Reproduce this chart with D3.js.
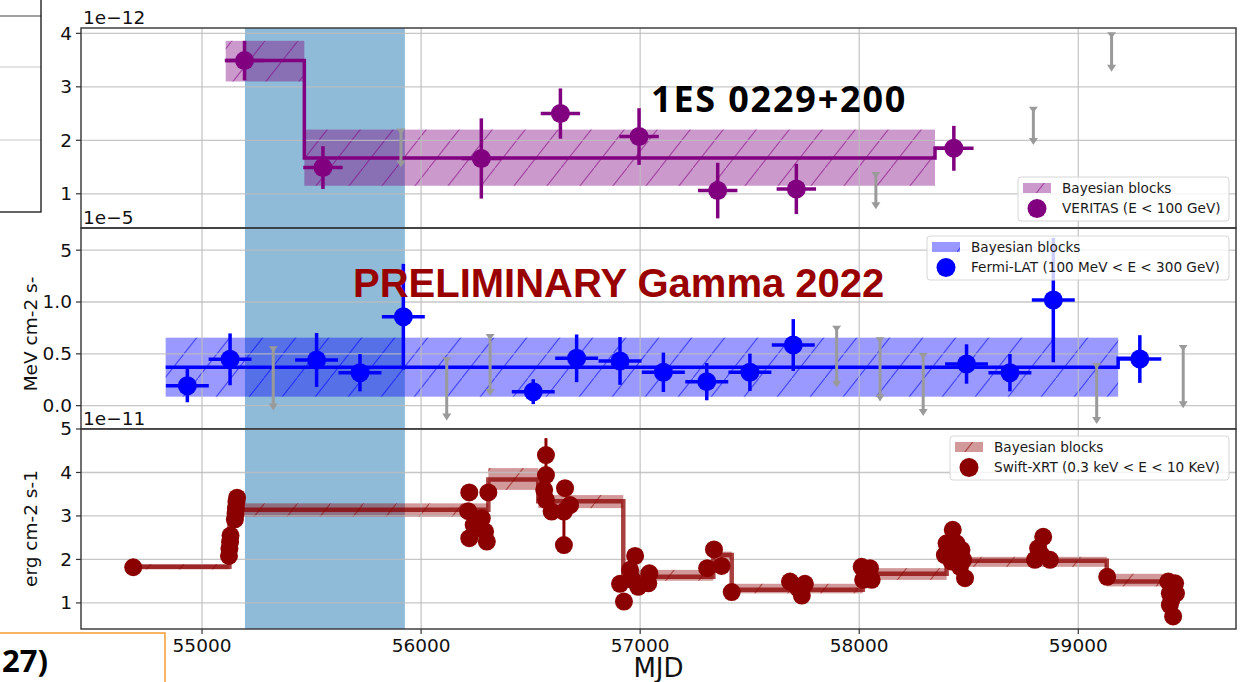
<!DOCTYPE html>
<html>
<head>
<meta charset="utf-8">
<script src="https://cdn.jsdelivr.net/npm/d3@7"></script>
<style>
  body { margin: 0; background: #fff; }
  svg { display: block; }
</style>
</head>
<body>
<svg id="chart" width="1248" height="682"></svg>
<script>
// ---------- data ----------
const xTicks = [55000, 56000, 57000, 58000, 59000];
const flareWindow = [55196, 55926];

// VERITAS (E < 100 GeV), flux in units of 1e-12
const veritasMjd  = [55194, 55552, 56275, 56636, 56995, 57354, 57713, 58432];
const veritasFlux = [3.49, 1.49, 1.66, 2.50, 2.07, 1.06, 1.09, 1.85];
const veritasErr  = [0.37, 0.40, 0.75, 0.47, 0.53, 0.52, 0.47, 0.42];
const veritasHalfBin = 90;
const veritasUlMjd = [55908, 58076, 58795, 59152];
const veritasUl    = [2.20, 1.39, 2.61, 4.00];
const veritasUlLen = [0.69, 0.66, 0.68, 0.70];
const veritasBlockEdges = [55108, 55467, 58346, 58440];
const veritasBlockFlux  = [3.49, 1.67, 1.85];
const veritasBlockLo    = [3.10, 1.15, 1.85];
const veritasBlockHi    = [3.86, 2.20, 1.85];
const veritasTicks = [1, 2, 3, 4];
const veritasTickLabels = ["1", "2", "3", "4"];

// Fermi-LAT (100 MeV < E < 300 GeV), flux in units of 1e-5
const fermiMjd  = [54933, 55128, 55523, 55721, 55919, 56512, 56710, 56908, 57106, 57304, 57501, 57699, 58490, 58688, 58886, 59281];
const fermiFlux = [0.193, 0.447, 0.441, 0.318, 0.858, 0.135, 0.457, 0.431, 0.322, 0.232, 0.322, 0.585, 0.402, 0.318, 1.019, 0.450];
const fermiErr  = [0.16, 0.25, 0.26, 0.18, 0.51, 0.12, 0.23, 0.23, 0.19, 0.18, 0.18, 0.25, 0.19, 0.18, 0.60, 0.23];
const fermiHalfBin = 98;
const fermiUlMjd = [55325, 56117, 56315, 57897, 58095, 58292, 59084, 59479];
const fermiUl    = [0.563, 0.457, 0.682, 0.762, 0.650, 0.499, 0.402, 0.576];
const fermiUlLen = [0.60, 0.59, 0.58, 0.58, 0.60, 0.59, 0.57, 0.59];
const fermiBlockEdges = [54834, 59182, 59281];
const fermiBlockFlux  = [0.370, 0.457];
const fermiBlockLo    = [0.087, 0.457];
const fermiBlockHi    = [0.656, 0.457];
const fermiTicks = [0.0, 0.5, 1.0, 1.5];
const fermiTickLabels = ["0.0", "0.5", "1.0", "5"];

// Swift-XRT (0.3 keV < E < 10 keV), flux in units of 1e-11
const swiftMjd = [54686,
  55123, 55125, 55128, 55130, 55150, 55153, 55155, 55157, 55160,
  56220, 56215, 56240, 56220, 56277, 56292, 56300, 56307,
  56570, 56570, 56562, 56570, 56596, 56657, 56680, 56652, 56652,
  56908, 56926, 56977, 56954, 56965, 56991, 57042, 57037,
  57306, 57337, 57372, 57418,
  57684, 57721, 57738, 57752,
  58011, 58049, 58018, 58057,
  58391, 58399, 58422, 58427, 58444, 58460, 58467, 58475, 58483,
  58802, 58817, 58832, 58840, 58871,
  59132,
  59411, 59418, 59425, 59433, 59442, 59446, 59418];
const swiftFlux = [1.82,
  2.08, 2.25, 2.40, 2.55, 2.92, 3.05, 3.18, 3.32, 3.42,
  3.54, 3.11, 2.79, 2.49, 2.95, 2.64, 2.41, 3.54,
  4.40, 3.94, 3.60, 3.37, 3.10, 3.64, 3.25, 3.10, 2.33,
  1.44, 1.03, 2.08, 1.76, 1.53, 1.37, 1.68, 1.45,
  1.80, 2.23, 1.85, 1.25,
  1.49, 1.34, 1.17, 1.44,
  1.83, 1.80, 1.53, 1.53,
  2.10, 2.37, 1.95, 2.68, 2.37, 1.83, 2.22, 1.99, 1.57,
  1.99, 2.26, 2.10, 2.52, 1.99,
  1.60,
  1.49, 1.22, 1.07, 0.69, 1.45, 1.22, 0.95];
const swiftErrUp = swiftFlux.map((v, i) => i === 18 ? 0.39 : i === 26 ? 0.77 : 0.1);
const swiftErrDown = swiftFlux.map((v, i) => i === 18 ? 0.39 : 0.1);
const swiftBlockEdges = [54686, 55125, 56307, 56535, 56923, 57334, 57418, 58016, 58399, 59130, 59411];
const swiftBlockFlux  = [1.83, 3.14, 3.84, 3.34, 1.60, 2.10, 1.30, 1.67, 1.97, 1.49];
const swiftBlockLo    = [1.77, 2.98, 3.60, 3.18, 1.51, 2.00, 1.22, 1.53, 1.83, 1.38];
const swiftBlockHi    = [1.89, 3.29, 4.10, 3.48, 1.76, 2.18, 1.44, 1.80, 2.06, 1.67];
const swiftTicks = [1, 2, 3, 4, 5];
const swiftTickLabels = ["1", "2", "3", "4", "5"];

// ---------- layout ----------
const svg = d3.select("#chart");
const LEFT = 81, RIGHT = 1236;
const AXIS_FONT = "DejaVu Sans, sans-serif";
const x = d3.scaleLinear().domain([54447.5, 59720]).range([LEFT, RIGHT]);

const defs = svg.append("defs");
function hatchPattern(id, color) {
  const p = defs.append("pattern")
    .attr("id", id)
    .attr("patternUnits", "userSpaceOnUse")
    .attr("width", 33).attr("height", 42);
  p.append("path")
    .attr("d", "M-3,45.8L36,-3.8")
    .attr("stroke", color).attr("stroke-width", 1.1)
    .attr("stroke-opacity", 0.55).attr("fill", "none");
}

const panels = [
  {
    key: "veritas", top: 28, bottom: 228, domain: [0.36, 4.1],
    ticks: veritasTicks, tickLabels: veritasTickLabels, offset: "1e\u221212",
    color: "#800080", lineColor: "#800080", lineWidth: 3.5, r: 9.5,
    mjd: veritasMjd, flux: veritasFlux, errUp: veritasErr, errDown: veritasErr, halfBin: veritasHalfBin,
    ulMjd: veritasUlMjd, ul: veritasUl, ulLen: veritasUlLen,
    edges: veritasBlockEdges, bFlux: veritasBlockFlux, bLo: veritasBlockLo, bHi: veritasBlockHi,
    legend: { x: 1018, y: 177, w: 211, label: "VERITAS (E < 100 GeV)" }
  },
  {
    key: "fermi", top: 228, bottom: 429, domain: [-0.225, 1.714],
    ticks: fermiTicks, tickLabels: fermiTickLabels, offset: "1e\u22125",
    ylabel: "MeV cm-2 s-", ylabelY: 334,
    color: "#0000ff", lineColor: "#0000ff", lineWidth: 3.5, r: 9.5,
    mjd: fermiMjd, flux: fermiFlux, errUp: fermiErr, errDown: fermiErr, halfBin: fermiHalfBin,
    ulMjd: fermiUlMjd, ul: fermiUl, ulLen: fermiUlLen,
    edges: fermiBlockEdges, bFlux: fermiBlockFlux, bLo: fermiBlockLo, bHi: fermiBlockHi,
    legend: { x: 927, y: 236, w: 302, label: "Fermi-LAT (100 MeV < E < 300 GeV)" }
  },
  {
    key: "swift", top: 429, bottom: 629, domain: [0.40, 5.0],
    ticks: swiftTicks, tickLabels: swiftTickLabels, offset: "1e\u221211",
    ylabel: "erg cm-2 s-1", ylabelY: 528.5,
    color: "#8b0000", lineColor: "rgba(139,0,0,0.75)", lineWidth: 4.5, r: 9,
    mjd: swiftMjd, flux: swiftFlux, errUp: swiftErrUp, errDown: swiftErrDown, halfBin: 0,
    ulMjd: [], ul: [], ulLen: [],
    edges: swiftBlockEdges, bFlux: swiftBlockFlux, bLo: swiftBlockLo, bHi: swiftBlockHi,
    legend: { x: 950, y: 436, w: 279, label: "Swift-XRT (0.3 keV < E < 10 KeV)" },
    xAxis: true
  }
];

function upperLimit(g, xv, yTop, yBot) {
  const c = "#9a9a9a";
  g.append("line").attr("x1", xv).attr("x2", xv).attr("y1", yTop).attr("y2", yBot - 3)
    .attr("stroke", c).attr("stroke-width", 3);
  g.append("path").attr("d", `M${xv - 4.5},${yTop - 1}L${xv + 4.5},${yTop - 1}L${xv},${yTop + 5}Z`).attr("fill", c);
  g.append("path").attr("d", `M${xv - 4.5},${yBot - 6}L${xv + 4.5},${yBot - 6}L${xv},${yBot + 1}Z`).attr("fill", c);
}

panels.forEach(p => {
  const y = d3.scaleLinear().domain(p.domain).range([p.bottom, p.top]);
  hatchPattern("hatch-" + p.key, p.color);

  defs.append("clipPath").attr("id", "clip-" + p.key)
    .append("rect").attr("x", LEFT).attr("y", p.top).attr("width", RIGHT - LEFT).attr("height", p.bottom - p.top);

  const g = svg.append("g").attr("clip-path", `url(#clip-${p.key})`);

  // flare window
  g.append("rect")
    .attr("x", x(flareWindow[0])).attr("width", x(flareWindow[1]) - x(flareWindow[0]))
    .attr("y", p.top).attr("height", p.bottom - p.top)
    .attr("fill", "#1f77b4").attr("fill-opacity", 0.5);

  // Bayesian block bands
  p.bFlux.forEach((v, i) => {
    const x0 = x(p.edges[i]), x1 = x(p.edges[i + 1]);
    const y0 = y(p.bHi[i]), y1 = y(p.bLo[i]);
    if (y1 - y0 < 0.5) return;
    g.append("rect").attr("x", x0).attr("y", y0).attr("width", x1 - x0).attr("height", y1 - y0)
      .attr("fill", p.color).attr("fill-opacity", 0.4);
    g.append("rect").attr("x", x0).attr("y", y0).attr("width", x1 - x0).attr("height", y1 - y0)
      .attr("fill", `url(#hatch-${p.key})`);
  });

  // grid
  const grid = g.append("g").attr("stroke", "#bdbdbd").attr("stroke-width", 1.3).attr("stroke-opacity", 0.85);
  xTicks.forEach(t => grid.append("line").attr("x1", x(t)).attr("x2", x(t)).attr("y1", p.top).attr("y2", p.bottom));
  p.ticks.forEach(t => grid.append("line").attr("x1", LEFT).attr("x2", RIGHT).attr("y1", y(t)).attr("y2", y(t)));

  // Bayesian block step line
  const steps = [];
  p.bFlux.forEach((v, i) => { steps.push([p.edges[i], v]); steps.push([p.edges[i + 1], v]); });
  g.append("path").datum(steps)
    .attr("d", d3.line().x(d => x(d[0])).y(d => y(d[1])))
    .attr("fill", "none").attr("stroke", p.lineColor).attr("stroke-width", p.lineWidth);

  // upper limits
  p.ulMjd.forEach((m, i) => upperLimit(g, x(m), y(p.ul[i]), y(p.ul[i] - p.ulLen[i])));

  // error bars
  const eb = g.append("g").attr("stroke", p.color).attr("stroke-width", p.key === "swift" ? 3 : 3.5);
  p.mjd.forEach((m, i) => {
    eb.append("line").attr("x1", x(m)).attr("x2", x(m))
      .attr("y1", y(p.flux[i] + p.errUp[i])).attr("y2", y(p.flux[i] - p.errDown[i]));
    if (p.halfBin > 0) {
      eb.append("line").attr("x1", x(m - p.halfBin)).attr("x2", x(m + p.halfBin))
        .attr("y1", y(p.flux[i])).attr("y2", y(p.flux[i]));
    }
  });

  // markers
  g.append("g").selectAll("circle").data(p.mjd).join("circle")
    .attr("cx", d => x(d)).attr("cy", (d, i) => y(p.flux[i])).attr("r", p.r)
    .attr("fill", p.color);

  // axes frame
  svg.append("rect").attr("x", LEFT).attr("y", p.top).attr("width", RIGHT - LEFT).attr("height", p.bottom - p.top)
    .attr("fill", "none").attr("stroke", "#333").attr("stroke-width", 1.4);

  // y ticks
  const yt = svg.append("g").attr("font-family", AXIS_FONT).attr("font-size", 18.5).attr("fill", "#111");
  p.ticks.forEach((t, i) => {
    yt.append("line").attr("x1", LEFT - 5).attr("x2", LEFT).attr("y1", y(t)).attr("y2", y(t))
      .attr("stroke", "#333").attr("stroke-width", 1.2);
    yt.append("text").attr("x", LEFT - 9).attr("y", y(t)).attr("dy", "0.35em")
      .attr("text-anchor", "end").text(p.tickLabels[i]);
  });

  // scale offset text
  svg.append("text").attr("x", LEFT + 2).attr("y", p.top - 4)
    .attr("font-family", AXIS_FONT).attr("font-size", 18.5).attr("fill", "#111").text(p.offset);

  if (p.ylabel) {
    svg.append("text")
      .attr("transform", `translate(37,${p.ylabelY}) rotate(-90)`)
      .attr("text-anchor", "middle")
      .attr("font-family", AXIS_FONT).attr("font-size", 18.5).attr("fill", "#111").text(p.ylabel);
  }

  if (p.xAxis) {
    const xt = svg.append("g").attr("font-family", AXIS_FONT).attr("font-size", 18.5).attr("fill", "#111");
    xTicks.forEach(t => {
      xt.append("line").attr("x1", x(t)).attr("x2", x(t)).attr("y1", p.bottom).attr("y2", p.bottom + 5)
        .attr("stroke", "#333").attr("stroke-width", 1.2);
      xt.append("text").attr("x", x(t)).attr("y", p.bottom + 23).attr("text-anchor", "middle").text(t);
    });
    svg.append("text").attr("x", (LEFT + RIGHT) / 2).attr("y", 677).attr("text-anchor", "middle")
      .attr("font-family", AXIS_FONT).attr("font-size", 26).attr("fill", "#111").text("MJD");
  }

  // legend
  const L = p.legend;
  const lg = svg.append("g");
  lg.append("rect").attr("x", L.x).attr("y", L.y).attr("width", L.w).attr("height", 44).attr("rx", 3)
    .attr("fill", "#fff").attr("fill-opacity", 0.8).attr("stroke", "#d6d6d6").attr("stroke-width", 1);
  lg.append("rect").attr("x", L.x + 5).attr("y", L.y + 6).attr("width", 28).attr("height", 10)
    .attr("fill", p.color).attr("fill-opacity", 0.4);
  lg.append("rect").attr("x", L.x + 5).attr("y", L.y + 6).attr("width", 28).attr("height", 10)
    .attr("fill", `url(#hatch-${p.key})`);
  lg.append("circle").attr("cx", L.x + 19).attr("cy", L.y + 31.5).attr("r", 9.5).attr("fill", p.color);
  const lt = lg.append("g").attr("font-family", AXIS_FONT).attr("font-size", 13.6).attr("fill", "#1a1a1a");
  lt.append("text").attr("x", L.x + 44).attr("y", L.y + 11).attr("dy", "0.35em").text("Bayesian blocks");
  lt.append("text").attr("x", L.x + 44).attr("y", L.y + 31.5).attr("dy", "0.35em").text(L.label);
});

// annotations
svg.append("text").attr("x", 651).attr("y", 112)
  .attr("font-family", "Open Sans, sans-serif").attr("font-weight", 700).attr("font-size", 36)
  .attr("letter-spacing", 1.8)
  .attr("fill", "#000").text("1ES 0229+200");
svg.append("text").attr("x", 353).attr("y", 297)
  .attr("font-family", "Liberation Sans, Arial, sans-serif").attr("font-weight", 700).attr("font-size", 40)
  .attr("fill", "#990000").text("PRELIMINARY Gamma 2022");

// neighbouring slide elements
const slide = svg.append("g");
slide.append("line").attr("x1", 0).attr("x2", 41).attr("y1", 16).attr("y2", 16).attr("stroke", "#444").attr("stroke-width", 1.2);
[67, 140].forEach(yy => slide.append("line").attr("x1", 0).attr("x2", 41).attr("y1", yy).attr("y2", yy)
  .attr("stroke", "#c8c8c8").attr("stroke-width", 1.2));
slide.append("rect").attr("x", -2).attr("y", -2).attr("width", 43).attr("height", 214)
  .attr("fill", "none").attr("stroke", "#111").attr("stroke-width", 1.3);
slide.append("rect").attr("x", -2).attr("y", 633).attr("width", 167).attr("height", 60)
  .attr("fill", "none").attr("stroke", "#f39c32").attr("stroke-width", 1.5);
slide.append("text").attr("x", 2).attr("y", 672)
  .attr("font-family", "Open Sans, sans-serif").attr("font-weight", 700).attr("font-size", 31)
  .attr("fill", "#000").text("27)");
</script>
</body>
</html>
